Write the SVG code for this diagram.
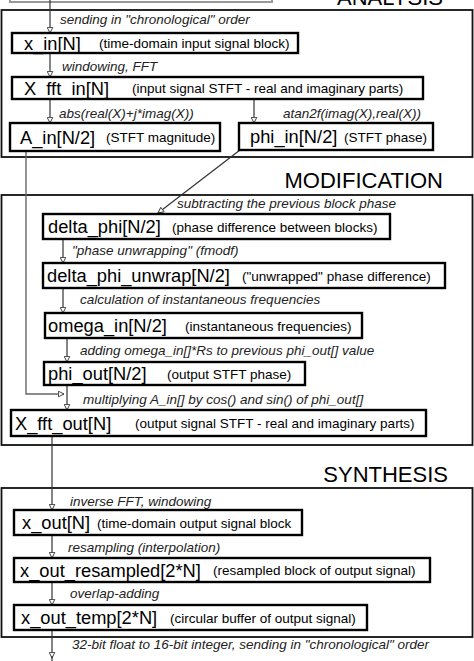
<svg xmlns="http://www.w3.org/2000/svg" width="474" height="661" viewBox="0 0 474 661">
<style>
.sec{fill:#fff;stroke:#111;stroke-width:1.8}
.node{fill:#fff;stroke:#000;stroke-width:2.4}
.title{font-family:"Liberation Sans",Arial,sans-serif;font-size:22px;fill:#000;text-anchor:end}
.nm{font-family:"Liberation Sans",Arial,sans-serif;font-size:18.3px;fill:#000}
.ds{font-family:"Liberation Sans",Arial,sans-serif;font-size:13.5px;fill:#000}
.el{font-family:"Liberation Sans",Arial,sans-serif;font-size:13.5px;font-style:italic;fill:#222}
.c{fill:none;stroke:#333;stroke-width:1.2}
.cg{fill:none;stroke:#666;stroke-width:1.4}
</style>
<defs>
<marker id="ah" viewBox="0 0 10 10" refX="9" refY="5" markerWidth="7" markerHeight="7" markerUnits="userSpaceOnUse" orient="auto">
<path d="M1,1 L9,5 L1,9 Z" fill="#fff" stroke="#333" stroke-width="1.3"/>
</marker>
</defs>
<rect width="474" height="661" fill="#fff"/>
<g id="input-source">
<rect x="10" y="-20" width="262" height="22" fill="none" stroke="#999" stroke-width="2"/>
</g>
<g id="analysis">
<text class="title" x="443" y="5">ANALYSIS</text>
<rect class="sec" x="1.5" y="10" width="471" height="147"/>
</g>
<g id="modification">
<text class="title" x="443" y="188">MODIFICATION</text>
<rect class="sec" x="1.5" y="195" width="471" height="250"/>
</g>
<g id="synthesis">
<text class="title" x="448" y="482">SYNTHESIS</text>
<rect class="sec" x="1.5" y="488" width="471" height="149"/>
</g>
<g id="connectors">
<line class="c" x1="50" y1="0" x2="50" y2="33" marker-end="url(#ah)"/>
<line class="c" x1="50" y1="53" x2="50" y2="77" marker-end="url(#ah)"/>
<line class="c" x1="50" y1="99" x2="50" y2="123" marker-end="url(#ah)"/>
<line class="c" x1="254" y1="99" x2="254" y2="123" marker-end="url(#ah)"/>
<line class="c" x1="240" y1="150" x2="158" y2="213" marker-end="url(#ah)"/>
<polyline class="cg" points="26,151 26,394 64,394" marker-end="url(#ah)"/>
<line class="c" x1="63" y1="239" x2="63" y2="263" marker-end="url(#ah)"/>
<line class="c" x1="63" y1="288" x2="63" y2="313" marker-end="url(#ah)"/>
<line class="c" x1="67" y1="338" x2="67" y2="362" marker-end="url(#ah)"/>
<line class="c" x1="67" y1="385" x2="67" y2="410" marker-end="url(#ah)"/>
<line class="c" x1="52" y1="436" x2="52" y2="510" marker-end="url(#ah)"/>
<line class="c" x1="52" y1="535" x2="52" y2="558" marker-end="url(#ah)"/>
<line class="c" x1="52" y1="582" x2="52" y2="605" marker-end="url(#ah)"/>
<line class="c" x1="52" y1="630" x2="52" y2="658" marker-end="url(#ah)"/>
<line class="c" x1="52" y1="656" x2="52" y2="661"/>
<text class="el" x="60" y="24">sending in "chronological" order</text>
<text class="el" x="62" y="71">windowing, FFT</text>
<text class="el" x="59" y="118">abs(real(X)+j*imag(X))</text>
<text class="el" x="283" y="118">atan2f(imag(X),real(X))</text>
<text class="el" x="177" y="208">subtracting the previous block phase</text>
<text class="el" x="72" y="255">"phase unwrapping" (fmodf)</text>
<text class="el" x="80" y="304">calculation of instantaneous frequencies</text>
<text class="el" x="80" y="355">adding omega_in[]*Rs to previous phi_out[] value</text>
<text class="el" x="83" y="404">multiplying A_in[] by cos() and sin() of phi_out[]</text>
<text class="el" x="70" y="506">inverse FFT, windowing</text>
<text class="el" x="68" y="552">resampling (interpolation)</text>
<text class="el" x="70" y="598">overlap-adding</text>
<text class="el" x="72" y="649">32-bit float to 16-bit integer, sending in "chronological" order</text>
</g>
<g id="x_in">
<rect class="node" x="12" y="33" width="286" height="20"/>
<text class="nm" x="24" y="49.5">x_in[N]</text>
<text class="ds" x="99" y="48">(time-domain input signal block)</text>
</g>
<g id="X_fft_in">
<rect class="node" x="12" y="77" width="411" height="22"/>
<text class="nm" x="24" y="94.5">X_fft_in[N]</text>
<text class="ds" x="132" y="93">(input signal STFT - real and imaginary parts)</text>
</g>
<g id="A_in">
<rect class="node" x="10" y="123" width="210" height="28"/>
<text class="nm" x="20" y="143.5">A_in[N/2]</text>
<text class="ds" x="106" y="142">(STFT magnitude)</text>
</g>
<g id="phi_in">
<rect class="node" x="239" y="123" width="194" height="27"/>
<text class="nm" x="250" y="143">phi_in[N/2]</text>
<text class="ds" x="344" y="141.5">(STFT phase)</text>
</g>
<g id="delta_phi">
<rect class="node" x="43" y="214" width="347" height="25"/>
<text class="nm" x="48" y="233">delta_phi[N/2]</text>
<text class="ds" x="172" y="231.5">(phase difference between blocks)</text>
</g>
<g id="delta_phi_unwrap">
<rect class="node" x="43" y="263" width="402" height="25"/>
<text class="nm" x="47" y="282">delta_phi_unwrap[N/2]</text>
<text class="ds" x="242" y="280.5">("unwrapped" phase difference)</text>
</g>
<g id="omega_in">
<rect class="node" x="45" y="313" width="317" height="25"/>
<text class="nm" x="48" y="332">omega_in[N/2]</text>
<text class="ds" x="185" y="330.5">(instantaneous frequencies)</text>
</g>
<g id="phi_out">
<rect class="node" x="44" y="362" width="261" height="23"/>
<text class="nm" x="48" y="380">phi_out[N/2]</text>
<text class="ds" x="167" y="378.5">(output STFT phase)</text>
</g>
<g id="X_fft_out">
<rect class="node" x="11" y="410" width="415" height="26"/>
<text class="nm" x="15" y="429.5">X_fft_out[N]</text>
<text class="ds" x="135" y="428">(output signal STFT - real and imaginary parts)</text>
</g>
<g id="x_out">
<rect class="node" x="14" y="510" width="288" height="25"/>
<text class="nm" x="22" y="529">x_out[N]</text>
<text class="ds" x="97" y="527.5">(time-domain output signal block</text>
</g>
<g id="x_out_resampled">
<rect class="node" x="14" y="558" width="416" height="24"/>
<text class="nm" x="20" y="576.5">x_out_resampled[2*N]</text>
<text class="ds" x="213" y="575">(resampled block of output signal)</text>
</g>
<g id="x_out_temp">
<rect class="node" x="14" y="605" width="353" height="25"/>
<text class="nm" x="21" y="624">x_out_temp[2*N]</text>
<text class="ds" x="170" y="622.5">(circular buffer of output signal)</text>
</g>
</svg>
